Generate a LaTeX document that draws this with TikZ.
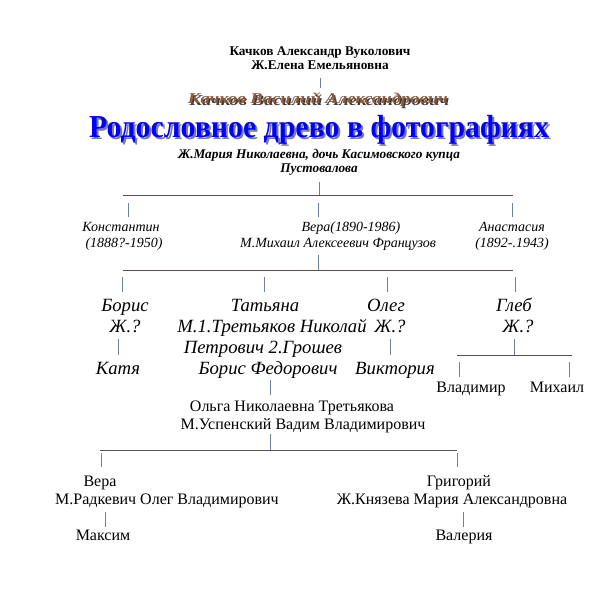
\documentclass[tikz,border=0pt]{standalone}
\usepackage{fontspec}
\setmainfont{Liberation Serif}
\usepackage{graphicx}
\definecolor{titleblue}{RGB}{0,0,255}
\definecolor{brownw}{RGB}{140,90,60}
\definecolor{shadowc}{RGB}{125,125,135}
\definecolor{shadowd}{RGB}{60,60,60}
\definecolor{vline}{RGB}{110,130,160}
\definecolor{hline}{RGB}{90,80,75}
\begin{document}
\begin{tikzpicture}[x=1pt,y=-1pt,
  every node/.style={inner sep=0pt, outer sep=0pt, anchor=base},
  topb/.style={font=\fontsize{13.3}{15}\selectfont\bfseries},
  bi/.style={font=\fontsize{13.3}{15}\selectfont\bfseries\itshape},
  wa/.style={font=\fontsize{15}{17}\selectfont\bfseries\itshape},
  ttl/.style={font=\fontsize{32}{34}\selectfont\bfseries},
  sm/.style={font=\fontsize{14}{16}\selectfont\itshape},
  big/.style={font=\fontsize{18.7}{21}\selectfont\itshape},
  reg/.style={font=\fontsize{16}{18}\selectfont},
  vl/.style={draw=vline, line width=0.8pt},
  hl/.style={draw=hline, line width=0.8pt}]
\useasboundingbox (0,0) rectangle (600,600);

% --- top ancestors
\node[topb] (a1) at (320,55) {Качков Александр Вуколович};
\node[topb] (a2) at (320,69) {Ж.Елена Емельяновна};
\coordinate (v0a) at (320,78); \coordinate (v0b) at (320,88);
\draw[vl] (v0a) -- (v0b);

% --- Vasiliy (shadowed)
\node[wa, text=shadowd] (vasS) at (319.5,105) {\resizebox{260pt}{\height}{Качков Василий Александрович}};
\node[wa, text=brownw] (vas) at (318,103.5) {\resizebox{260pt}{\height}{Качков Василий Александрович}};

% --- title (shadowed)
\node[ttl, text=shadowc] (titleS) at (321,139) {\resizebox{460pt}{\height}{Родословное древо в фотографиях}};
\node[ttl, text=titleblue] (title) at (319,137) {\resizebox{460pt}{\height}{Родословное древо в фотографиях}};

\node[bi] (m1) at (319,158) {Ж.Мария Николаевна, дочь Касимовского купца};
\node[bi] (m2) at (319,172) {Пустовалова};

% --- bar 1
\coordinate (b1top) at (319,182); \coordinate (b1mid) at (319,195);
\coordinate (b1l) at (123,195); \coordinate (b1r) at (513,195);
\draw[vl] (b1top) -- (b1mid);
\draw[hl] (b1l) -- (b1r);
\coordinate (t1a) at (128,203); \coordinate (t1b) at (128,217);
\coordinate (t2a) at (318,203); \coordinate (t2b) at (318,217);
\coordinate (t3a) at (512,203); \coordinate (t3b) at (512,217);
\draw[vl] (t1a) -- (t1b);
\draw[vl] (t2a) -- (t2b);
\draw[vl] (t3a) -- (t3b);

% --- row 2
\node[sm] (k1) at (121,231) {Константин};
\node[sm] (k2) at (124,247) {(1888?-1950)};
\node[sm] (ve1) at (351,231) {Вера(1890-1986)};
\node[sm] (ve2) at (338,247) {М.Михаил Алексеевич Французов};
\node[sm] (an1) at (512,231) {Анастасия};
\node[sm] (an2) at (512,247) {(1892-.1943)};

% --- bar 2
\coordinate (b2top) at (318,255); \coordinate (b2mid) at (318,270);
\coordinate (b2l) at (123,270); \coordinate (b2r) at (513,270);
\draw[vl] (b2top) -- (b2mid);
\draw[hl] (b2l) -- (b2r);
\coordinate (u1a) at (122,277); \coordinate (u1b) at (122,292);
\coordinate (u2a) at (264,277); \coordinate (u2b) at (264,292);
\coordinate (u3a) at (387,277); \coordinate (u3b) at (387,292);
\coordinate (u4a) at (515,277); \coordinate (u4b) at (515,292);
\draw[vl] (u1a) -- (u1b);
\draw[vl] (u2a) -- (u2b);
\draw[vl] (u3a) -- (u3b);
\draw[vl] (u4a) -- (u4b);

% --- row 3
\node[big] (bo1) at (125,311) {Борис};
\node[big] (bo2) at (125,332) {Ж.?};
\node[big] (katya) at (118,374) {Катя};
\coordinate (bka) at (118,339); \coordinate (bkb) at (118,355);
\draw[vl] (bka) -- (bkb);

\node[big] (ta1) at (265,311) {Татьяна};
\node[big] (ta2) at (272,332) {М.1.Третьяков Николай};
\node[big] (ta3) at (263,353) {Петрович 2.Грошев};
\node[big] (ta4) at (268,374) {Борис Федорович};

\node[big] (ol1) at (386,311) {Олег};
\node[big] (ol2) at (390,332) {Ж.?};
\node[big] (vik) at (395,374) {Виктория};
\coordinate (ova) at (390,339); \coordinate (ovb) at (390,355);
\draw[vl] (ova) -- (ovb);

\node[big] (gl1) at (514,311) {Глеб};
\node[big] (gl2) at (518,332) {Ж.?};
\coordinate (gta) at (514,339); \coordinate (gtb) at (514,355);
\coordinate (gl) at (457,355); \coordinate (gr) at (572,355);
\draw[vl] (gta) -- (gtb);
\draw[hl] (gl) -- (gr);
\coordinate (gva) at (459,362); \coordinate (gvb) at (459,377);
\coordinate (gma) at (569,362); \coordinate (gmb) at (569,377);
\draw[vl] (gva) -- (gvb);
\draw[vl] (gma) -- (gmb);
\node[reg] (vlad) at (471,392) {Владимир};
\node[reg] (mih) at (557,392) {Михаил};

% --- Olga
\coordinate (toa) at (270,380); \coordinate (tob) at (270,395);
\draw[vl] (toa) -- (tob);
\node[reg] (olga1) at (292,411) {Ольга Николаевна Третьякова};
\node[reg] (olga2) at (303,429) {М.Успенский Вадим Владимирович};

% --- bar 4
\coordinate (b4top) at (270,434); \coordinate (b4mid) at (270,450);
\coordinate (b4l) at (100,450); \coordinate (b4r) at (457,450);
\draw[vl] (b4top) -- (b4mid);
\draw[hl] (b4l) -- (b4r);
\coordinate (w1a) at (101,453); \coordinate (w1b) at (101,467);
\coordinate (w2a) at (457,453); \coordinate (w2b) at (457,467);
\draw[vl] (w1a) -- (w1b);
\draw[vl] (w2a) -- (w2b);

\node[reg] (vr1) at (100,486) {Вера};
\node[reg] (vr2) at (167,504) {М.Радкевич Олег Владимирович};
\coordinate (vma) at (105,512); \coordinate (vmb) at (105,527);
\draw[vl] (vma) -- (vmb);
\node[reg] (maks) at (103,540) {Максим};

\node[reg] (gr1) at (459,486) {Григорий};
\node[reg] (gr2) at (452,504) {Ж.Князева Мария Александровна};
\coordinate (gva2) at (463,512); \coordinate (gvb2) at (463,527);
\draw[vl] (gva2) -- (gvb2);
\node[reg] (val) at (464,540) {Валерия};
\end{tikzpicture}
\end{document}
